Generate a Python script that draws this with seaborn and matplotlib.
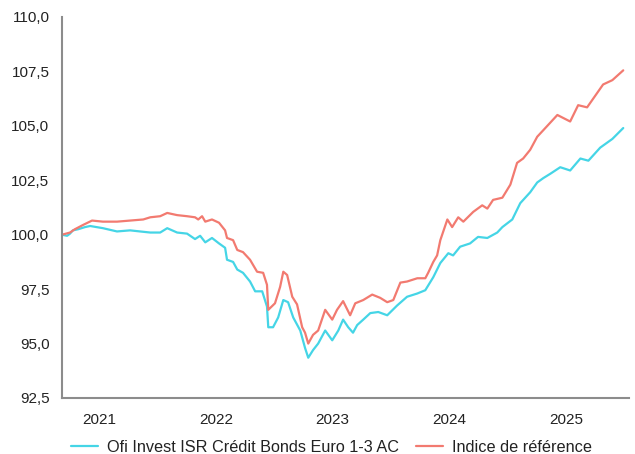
import matplotlib
matplotlib.use("Agg")
import matplotlib.pyplot as plt
import matplotlib.dates as mdates
from matplotlib.ticker import FuncFormatter, MultipleLocator
import seaborn as sns
import pandas as pd

# values
fund_name = "Ofi Invest ISR Crédit Bonds Euro 1-3 AC"
ref_name = "Indice de référence"

fund_dates = [
    "2020-09-07", "2020-09-23", "2020-10-02", "2020-10-11", "2020-10-27", "2020-11-18",
    "2020-12-04", "2021-01-13", "2021-02-26", "2021-04-08", "2021-05-09", "2021-06-10",
    "2021-07-11", "2021-08-02", "2021-09-02", "2021-10-03", "2021-10-28", "2021-11-13",
    "2021-11-29", "2021-12-20", "2022-01-11", "2022-01-30", "2022-02-05", "2022-02-24",
    "2022-03-09", "2022-03-27", "2022-04-18", "2022-05-04", "2022-05-26", "2022-06-10",
    "2022-06-14", "2022-06-29", "2022-07-15", "2022-07-31", "2022-08-15", "2022-08-31",
    "2022-09-22", "2022-10-07", "2022-10-17", "2022-11-01", "2022-11-17", "2022-12-09",
    "2022-12-31", "2023-01-19", "2023-02-03", "2023-02-19", "2023-03-06", "2023-03-19",
    "2023-04-07", "2023-04-29", "2023-05-24", "2023-06-21", "2023-07-22", "2023-08-22",
    "2023-09-23", "2023-10-18", "2023-11-12", "2023-12-04", "2023-12-29", "2024-01-13",
    "2024-02-04", "2024-03-06", "2024-03-31", "2024-04-29", "2024-05-30", "2024-06-15",
    "2024-07-16", "2024-08-10", "2024-09-10", "2024-10-02", "2024-10-21", "2024-11-12",
    "2024-12-13", "2025-01-13", "2025-02-14", "2025-03-11", "2025-04-17", "2025-05-25",
    "2025-06-28",
]
fund_values = [
    100.0, 99.95, 100.05, 100.2, 100.25, 100.35,
    100.4, 100.3, 100.15, 100.2, 100.15, 100.1,
    100.1, 100.3, 100.1, 100.05, 99.8, 99.95,
    99.65, 99.85, 99.6, 99.4, 98.85, 98.75,
    98.4, 98.25, 97.85, 97.4, 97.4, 96.7,
    95.75, 95.75, 96.2, 97.0, 96.9, 96.2,
    95.6, 94.8, 94.35, 94.7, 95.0, 95.6,
    95.15, 95.6, 96.1, 95.75, 95.5, 95.85,
    96.1, 96.4, 96.45, 96.3, 96.75, 97.15,
    97.3, 97.45, 98.05, 98.7, 99.15, 99.05,
    99.45, 99.6, 99.9, 99.85, 100.1, 100.35,
    100.7, 101.45, 101.95, 102.4, 102.6, 102.8,
    103.1, 102.95, 103.5, 103.4, 104.0, 104.4,
    104.9,
]

ref_dates = [
    "2020-09-07", "2020-10-02", "2020-10-17", "2020-11-12", "2020-12-10", "2021-01-13",
    "2021-02-26", "2021-04-08", "2021-05-19", "2021-06-10", "2021-07-11", "2021-08-02",
    "2021-09-02", "2021-10-03", "2021-10-28", "2021-11-07", "2021-11-19", "2021-11-29",
    "2021-12-20", "2022-01-11", "2022-01-30", "2022-02-05", "2022-02-24", "2022-03-09",
    "2022-03-27", "2022-04-18", "2022-05-10", "2022-05-29", "2022-06-10", "2022-06-14",
    "2022-07-05", "2022-07-21", "2022-07-31", "2022-08-12", "2022-08-28", "2022-09-12",
    "2022-09-28", "2022-10-07", "2022-10-17", "2022-11-01", "2022-11-17", "2022-12-09",
    "2022-12-31", "2023-01-15", "2023-02-03", "2023-02-25", "2023-03-13", "2023-04-07",
    "2023-05-05", "2023-05-30", "2023-06-21", "2023-07-10", "2023-08-01", "2023-08-22",
    "2023-09-23", "2023-10-18", "2023-10-27", "2023-11-12", "2023-11-24", "2023-12-04",
    "2023-12-26", "2024-01-10", "2024-01-29", "2024-02-14", "2024-03-16", "2024-04-13",
    "2024-04-29", "2024-05-17", "2024-06-15", "2024-07-10", "2024-07-31", "2024-08-19",
    "2024-09-10", "2024-10-02", "2024-10-21", "2024-12-04", "2025-01-13", "2025-02-07",
    "2025-03-07", "2025-04-26", "2025-05-25", "2025-06-28",
]
ref_values = [
    100.0, 100.1, 100.25, 100.45, 100.65, 100.6,
    100.6, 100.65, 100.7, 100.8, 100.85, 101.0,
    100.9, 100.85, 100.8, 100.7, 100.85, 100.6,
    100.7, 100.55, 100.2, 99.85, 99.75, 99.3,
    99.2, 98.85, 98.3, 98.25, 97.7, 96.55,
    96.85, 97.6, 98.3, 98.15, 97.15, 96.8,
    95.75, 95.5, 95.0, 95.4, 95.6, 96.55,
    96.1, 96.55, 96.95, 96.3, 96.85, 97.0,
    97.25, 97.1, 96.9, 97.0, 97.8, 97.85,
    98.0, 98.0, 98.25, 98.75, 99.05, 99.75,
    100.7, 100.35, 100.8, 100.6, 101.05, 101.35,
    101.2, 101.6, 101.7, 102.3, 103.3, 103.5,
    103.9, 104.5, 104.8, 105.5, 105.2, 105.95,
    105.85, 106.9, 107.1, 107.55,
]

fund_color = "#45D5E6"
ref_color = "#F27A70"
axis_color = "#8C8C8C"

sns.set_style("white")
plt.rcParams["font.family"] = ["Liberation Sans", "DejaVu Sans"]

fig = plt.figure(figsize=(6.35, 4.54), dpi=100)
ax = fig.add_axes([62 / 635, 1 - 398 / 454, 567 / 635, 381 / 454])

sns.lineplot(x=pd.to_datetime(fund_dates), y=fund_values, ax=ax,
             color=fund_color, linewidth=1.6, label=fund_name)
sns.lineplot(x=pd.to_datetime(ref_dates), y=ref_values, ax=ax,
             color=ref_color, linewidth=1.6, label=ref_name)

ax.set_xlim(pd.Timestamp("2020-09-07"), pd.Timestamp("2025-07-16"))
ax.set_ylim(92.5, 110)
ax.yaxis.set_major_locator(MultipleLocator(2.5))
ax.yaxis.set_major_formatter(FuncFormatter(lambda v, p: f"{v:.1f}".replace(".", ",")))
ax.xaxis.set_major_locator(mdates.YearLocator())
ax.xaxis.set_major_formatter(mdates.DateFormatter("%Y"))

for side in ["top", "right"]:
    ax.spines[side].set_visible(False)
for side in ["left", "bottom"]:
    ax.spines[side].set_color(axis_color)
    ax.spines[side].set_linewidth(1.5)
ax.tick_params(axis="both", which="major", direction="out", length=5, width=1.2,
               color=axis_color, labelsize=11, labelcolor="#222222", pad=4)
ax.tick_params(axis="x", pad=6)
ax.set_xlabel("")
ax.set_ylabel("")

ax.get_legend().remove()
handles, labels = ax.get_legend_handles_labels()
fig.legend(handles, labels, loc="center", bbox_to_anchor=(0.522, 1 - 447 / 454),
           ncol=2, frameon=False, fontsize=11.7, handlelength=1.66,
           handletextpad=0.5, columnspacing=1.1, labelcolor="#222222")

fig.savefig("out.png", dpi=100)
